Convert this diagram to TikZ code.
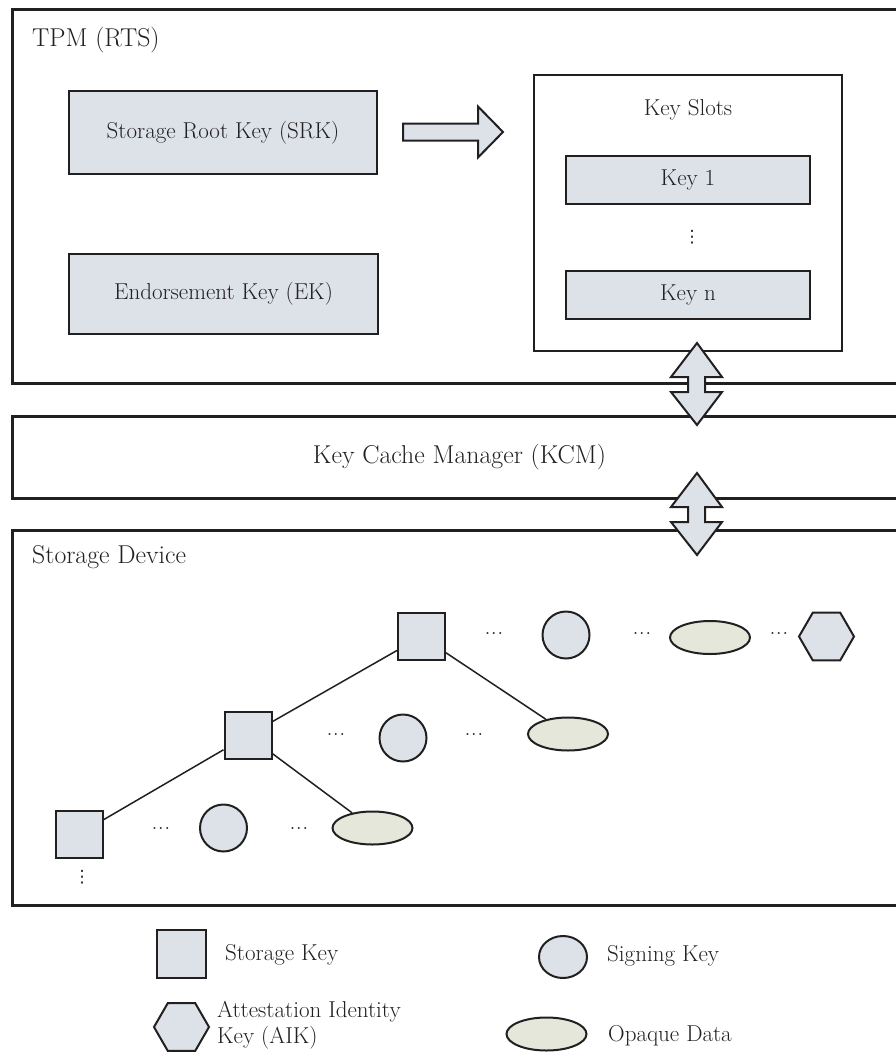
\documentclass[tikz,border=0pt]{standalone}
\usepackage{fontspec}
\newfontfamily\symfont{DejaVu Sans}
\usetikzlibrary{shapes.geometric,calc}
\definecolor{keyfill}{RGB}{221,226,233}
\definecolor{datafill}{RGB}{229,231,219}
\definecolor{ink}{RGB}{34,31,32}
\tikzset{
  hdr/.style={font=\fontsize{25.8}{31}\selectfont, text=ink, inner sep=0},
  lbl/.style={font=\fontsize{23}{25.5}\selectfont, text=ink, inner sep=0},
  outerbox/.style={draw=ink, line width=3},
  slotbox/.style={draw=ink, line width=2, rectangle, inner sep=0},
  keybox/.style={draw=ink, fill=keyfill, line width=2, inner sep=0},
  skey/.style={keybox, rectangle, minimum width=47, minimum height=47},
  sigkey/.style={keybox, circle, minimum size=47},
  opaque/.style={draw=ink, fill=datafill, line width=2, ellipse, inner sep=0, minimum width=80, minimum height=33},
  aik/.style={keybox, regular polygon, regular polygon sides=6, minimum size=55},
  dotstxt/.style={font=\fontsize{24}{24}\selectfont, text=ink, inner sep=0},
  vdotstxt/.style={font=\symfont\fontsize{17}{17}\selectfont, text=ink, inner sep=0},
  link/.style={draw=ink, line width=1.5},
  blockarrow/.style={draw=ink, fill=keyfill, line width=2, line join=miter},
}
% two-headed block arrow, given its upper tip
\newcommand\dblarrow[1]{%
  \draw[blockarrow] (#1) -- ++(25,34) -- ++(-17,0) -- ++(0,15) -- ++(17,0)
    -- ++(-25,33) -- ++(-26,-33) -- ++(17,0) -- ++(0,-15) -- ++(-17,0) -- cycle;}
% compact horizontal ellipsis
\newcommand\hdotsc{.\kern0.3pt.\kern0.3pt.}
\begin{document}
\begin{tikzpicture}[x=1pt,y=-1pt]
\useasboundingbox (0,0) rectangle (896,1055);
\begin{scope}
\clip (0,0) rectangle (896,1055);

% ---- TPM ----
\draw[outerbox] (12,9) rectangle (907,383);
\node[hdr, anchor=base west] (tpm) at (32,46) {TPM (RTS)};
\node[keybox, lbl, rectangle, minimum width=308, minimum height=83] (srk) at (223,132.5) {Storage Root Key (SRK)};
\node[keybox, lbl, rectangle, minimum width=309, minimum height=80] (ek) at (223.5,294) {Endorsement Key (EK)};

\node[slotbox, minimum width=308, minimum height=276] (slots) at (688,213) {};
\node[lbl, anchor=base] (slotlbl) at (688,115) {Key Slots};
\node[keybox, lbl, rectangle, minimum width=244, minimum height=48] (key1) at (688,180) {Key 1};
\node[vdotstxt] (kdots) at (692,237) {⋮};
\node[keybox, lbl, rectangle, minimum width=244, minimum height=48] (keyn) at (688,295) {Key n};

% loading arrow from SRK towards the key slots
\draw[blockarrow] ($(srk.east)+(25,-9)$) -- ++(75,0) -- ++(0,-17) -- ++(25,25.5)
  -- ++(-25,25.5) -- ++(0,-17) -- ++(-75,0) -- cycle;

% ---- Key Cache Manager ----
\draw[outerbox] (12,416) rectangle (907,498);
\node[hdr] (kcm) at (459.5,457) {Key Cache Manager (KCM)};

% ---- Storage Device ----
\draw[outerbox] (12,530) rectangle (907,905);
\node[hdr, anchor=base west] (sdev) at (32,563) {Storage Device};

% key hierarchy
\node[skey] (r) at (421.5,636.5) {};
\node[dotstxt] (d1) at (494,634) {\hdotsc};
\node[sigkey] (s1) at (566,635) {};
\node[dotstxt] (d2) at (642,634) {\hdotsc};
\node[opaque] (e1) at (710,637.5) {};
\node[dotstxt] (d3) at (779,634) {\hdotsc};
\node[aik] (h1) at (826.5,636.5) {};

\node[skey] (m) at (248,735.5) {};
\node[dotstxt] (d4) at (336,735) {\hdotsc};
\node[sigkey] (s2) at (403,738) {};
\node[dotstxt] (d5) at (474,735) {\hdotsc};
\node[opaque] (e2) at (568,734) {};

\node[skey] (b) at (79,834) {};
\node[dotstxt] (d6) at (161,829) {\hdotsc};
\node[sigkey] (s3) at (223.5,828) {};
\node[dotstxt] (d7) at (299,829) {\hdotsc};
\node[opaque] (e3) at (372.5,828) {};
\node[vdotstxt] (bdots) at (82,877) {⋮};

\draw[link] (r) -- (m);
\draw[link] (r) -- (e2);
\draw[link] (m) -- (b);
\draw[link] (m) -- (e3);

% transfer arrows between the layers
\coordinate (up1) at (697,343);
\coordinate (up2) at (697,473);
\dblarrow{up1}
\dblarrow{up2}
\end{scope}

% ---- legend ----
\node[skey, minimum width=49, minimum height=48] (lsk) at (181.5,954) {};
\node[lbl, anchor=west] (lsktxt) at (225,955) {Storage Key};
\node[keybox, ellipse, minimum width=48, minimum height=42] (lsig) at (563,957) {};
\node[lbl, anchor=west] (lsigtxt) at (607,956) {Signing Key};
\node[aik] (laik) at (181.5,1027) {};
\node[lbl, anchor=west, align=left] (laiktxt) at (217,1025) {Attestation Identity\\Key (AIK)};
\node[opaque] (lop) at (546.5,1034) {};
\node[lbl, anchor=west] (loptxt) at (608,1036) {Opaque Data};
\end{tikzpicture}
\end{document}
